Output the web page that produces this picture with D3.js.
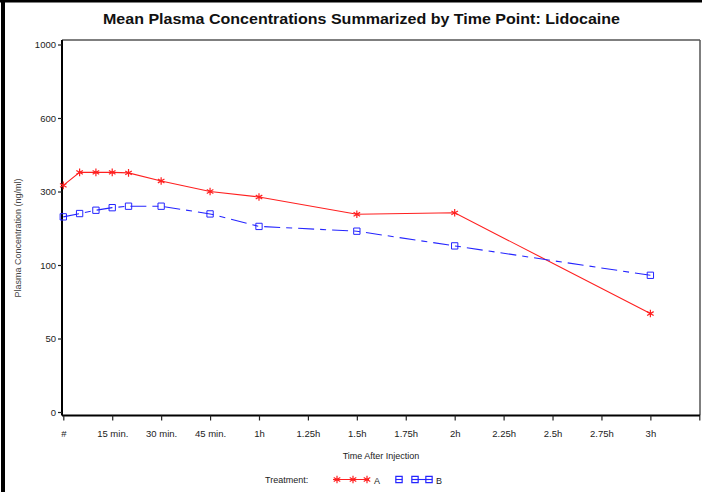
<!DOCTYPE html>
<html>
<head>
<meta charset="utf-8">
<script src="https://cdn.jsdelivr.net/npm/d3@7"></script>
<style>
  body { margin: 0; background: #fff; }
  svg { display: block; font-family: "Liberation Sans", Arial, sans-serif; }
</style>
</head>
<body>
<div id="chart"></div>
<script>
// data (minutes after injection, ng/ml)
const times = [0, 5, 10, 15, 20, 30, 45, 60, 90, 120, 180];
const seriesA = [325, 378, 378, 378, 376, 343, 300, 285, 238, 242, 67];
const seriesB = [231, 240, 249, 256, 260, 260, 239, 205, 192, 152, 93];
const yTicks = [0, 50, 100, 300, 600, 1000];
const xTickMinutes = [0, 15, 30, 45, 60, 75, 90, 105, 120, 135, 150, 165, 180, 195];
const xTickLabels = ["#", "15 min.", "30 min.", "45 min.", "1h", "1.25h", "1.5h", "1.75h", "2h", "2.25h", "2.5h", "2.75h", "3h", ""];

const width = 702, height = 492;
const plotLeft = 62, plotRight = 700, plotTop = 40, plotBottom = 415.5;

const svg = d3.select("#chart").append("svg")
    .attr("width", width)
    .attr("height", height);

// page border (left and top)
svg.append("rect").attr("x", 1).attr("y", 0).attr("width", 4).attr("height", height).attr("fill", "#000");
svg.append("rect").attr("x", 0).attr("y", 0).attr("width", width).attr("height", 2.5).attr("fill", "#000");

const x = d3.scaleLinear().domain([0, 195]).range([63.3, 699.3]);

// y ticks are evenly spaced even though values are not
const yStep = (412 - 44.5) / (yTicks.length - 1);
const y = d3.scaleLinear()
    .domain(yTicks)
    .range(yTicks.map((d, i) => 412 - i * yStep));

svg.append("text")
    .attr("x", 361.5)
    .attr("y", 24)
    .attr("text-anchor", "middle")
    .attr("textLength", 517)
    .attr("lengthAdjust", "spacingAndGlyphs")
    .style("font-size", "15.5px")
    .style("font-weight", "bold")
    .attr("fill", "#111")
    .text("Mean Plasma Concentrations Summarized by Time Point: Lidocaine");

// frame: top/right grey, left/bottom black
svg.append("line").attr("x1", plotLeft).attr("x2", plotRight).attr("y1", plotTop).attr("y2", plotTop)
    .attr("stroke", "#555").attr("stroke-width", 1.5);
svg.append("line").attr("x1", plotRight).attr("x2", plotRight).attr("y1", plotTop).attr("y2", plotBottom)
    .attr("stroke", "#555").attr("stroke-width", 1.5);

const yAxis = svg.append("g")
    .attr("transform", `translate(${plotLeft},0)`)
    .call(d3.axisLeft(y).tickValues(yTicks).tickSize(4).tickPadding(2).tickFormat(d3.format("d")));
yAxis.select(".domain").attr("d", `M0,${plotTop}V${plotBottom}`).attr("stroke", "#000").attr("stroke-width", 2);

const xAxis = svg.append("g")
    .attr("transform", `translate(0,${plotBottom})`)
    .call(d3.axisBottom(x).tickValues(xTickMinutes).tickSize(5).tickPadding(10)
        .tickFormat((d, i) => xTickLabels[i]));
xAxis.select(".domain").attr("d", `M${plotLeft},0H${plotRight}`).attr("stroke", "#000").attr("stroke-width", 2);

svg.selectAll(".tick line").attr("stroke", "#222").attr("stroke-width", 1.2);
svg.selectAll(".tick text").attr("fill", "#222").style("font-size", "9.5px");

svg.append("text")
    .attr("transform", "translate(21,238) rotate(-90)")
    .attr("text-anchor", "middle")
    .style("font-size", "9px")
    .attr("fill", "#444")
    .text("Plasma Concentration (ng/ml)");

svg.append("text")
    .attr("x", 381)
    .attr("y", 459)
    .attr("text-anchor", "middle")
    .style("font-size", "9px")
    .attr("fill", "#222")
    .text("Time After Injection");

const line = d3.line()
    .x((d, i) => x(times[i]))
    .y(d => y(d));

const red = "#ff2020", blue = "#2525ff";
const star = d3.symbol().type(d3.symbolAsterisk).size(40);
const square = d3.symbol().type(d3.symbolSquare).size(40);

svg.append("path")
    .datum(seriesA)
    .attr("d", line)
    .attr("fill", "none")
    .attr("stroke", red)
    .attr("stroke-width", 1.1);

svg.append("path")
    .datum(seriesB)
    .attr("d", line)
    .attr("fill", "none")
    .attr("stroke", blue)
    .attr("stroke-width", 1.1)
    .attr("stroke-dasharray", "16,6,6,6");

svg.selectAll(".markA")
    .data(seriesA)
    .enter().append("path")
    .attr("class", "markA")
    .attr("transform", (d, i) => `translate(${x(times[i])},${y(d)})`)
    .attr("d", star)
    .attr("fill", "none")
    .attr("stroke", red)
    .attr("stroke-width", 1.2);

svg.selectAll(".markB")
    .data(seriesB)
    .enter().append("path")
    .attr("class", "markB")
    .attr("transform", (d, i) => `translate(${x(times[i])},${y(d)})`)
    .attr("d", square)
    .attr("fill", "none")
    .attr("stroke", blue)
    .attr("stroke-width", 1);

// legend
const legendY = 479.5;
svg.append("text")
    .attr("x", 265)
    .attr("y", legendY + 3)
    .style("font-size", "9px")
    .attr("fill", "#222")
    .text("Treatment:");

svg.append("line").attr("x1", 333).attr("x2", 369).attr("y1", legendY).attr("y2", legendY)
    .attr("stroke", red).attr("stroke-width", 1.1);
[337, 353, 367].forEach(px => {
    svg.append("path").attr("transform", `translate(${px},${legendY})`).attr("d", star)
        .attr("fill", "none").attr("stroke", red).attr("stroke-width", 1.2);
});
svg.append("text").attr("x", 374).attr("y", legendY + 4).style("font-size", "9px").attr("fill", "#222").text("A");

svg.append("line").attr("x1", 415).attr("x2", 429).attr("y1", legendY).attr("y2", legendY)
    .attr("stroke", blue).attr("stroke-width", 1.1);
[399, 415, 429].forEach(px => {
    svg.append("path").attr("transform", `translate(${px},${legendY})`).attr("d", square)
        .attr("fill", "none").attr("stroke", blue).attr("stroke-width", 1.2);
    svg.append("line").attr("x1", px - 3.2).attr("x2", px + 3.2).attr("y1", legendY).attr("y2", legendY)
        .attr("stroke", blue).attr("stroke-width", 1.1);
});
svg.append("text").attr("x", 436).attr("y", legendY + 4).style("font-size", "9px").attr("fill", "#222").text("B");
</script>
</body>
</html>
